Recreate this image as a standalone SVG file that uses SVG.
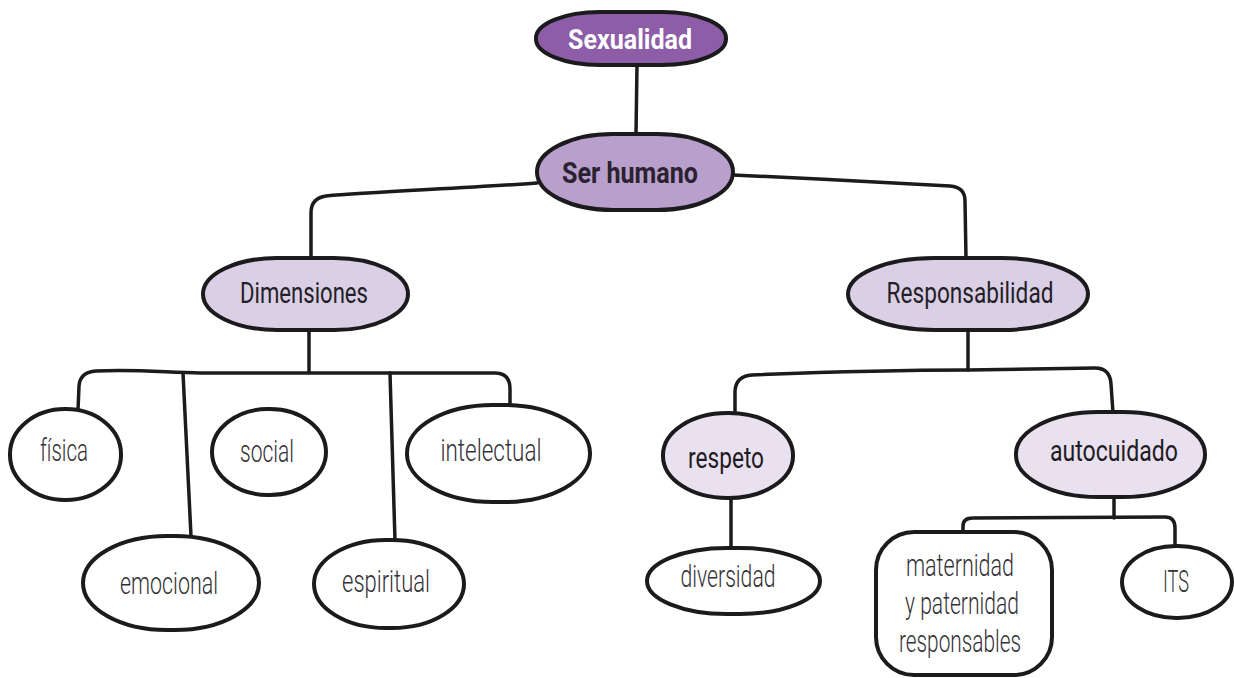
<svg xmlns="http://www.w3.org/2000/svg" width="1234" height="678" viewBox="0 0 1234 678">
<style>
.n{stroke:#1b1a1c;stroke-width:4;}
.w{fill:#ffffff;}
.c{fill:none;stroke:#1b1a1c;stroke-width:3.5;stroke-linecap:round;stroke-linejoin:round;}
text{font-family:"Roboto","DejaVu Sans Condensed","Liberation Sans",sans-serif;text-anchor:middle;}
.b{font-weight:700;fill:#2a2230;font-size:30px;}
.m{font-weight:400;fill:#231f26;font-size:30px;}
.r{font-weight:400;fill:#1f1b22;font-size:30px;}
.l{font-weight:300;fill:#333136;font-size:31px;}
</style>
<rect width="1234" height="678" fill="#ffffff"/>
<g id="connectors">
<path class="c" d="M637,65 L636,134"/>
<path class="c" d="M537,183 C470,188 370,192 326,196 Q311,198 311,213 L311,258"/>
<path class="c" d="M733,175 C800,178 900,183 950,186 Q965,187 965,201 L966,258"/>
<path class="c" d="M309,330 L309,372"/>
<path class="c" d="M78,410 L79,386 Q80,372 96,371 C140,369 170,373 200,373 L495,373 Q510,373 510,389 L510,405"/>
<path class="c" d="M183,373 L191,536"/>
<path class="c" d="M390,373 L395,541"/>
<path class="c" d="M968,330 L968,370"/>
<path class="c" d="M735,415 L735,391 Q736,376 752,375 C850,371 930,370 968,370 L1095,368 Q1110,368 1111,384 L1113,413"/>
<path class="c" d="M731,498 L731,548"/>
<path class="c" d="M1114,497 L1114,518"/>
<path class="c" d="M963,533 L963,526 Q963,518 973,518 L1165,517 Q1175,517 1175,528 L1175,547"/>
</g>
<g id="sexualidad"><rect class="n" x="536" y="12" width="190" height="53" rx="64" ry="26" fill="#8d5da8"/><text class="b" x="630" y="49" style="fill:#ffffff;font-size:28px" textLength="124" lengthAdjust="spacingAndGlyphs">Sexualidad</text></g>
<g id="ser-humano"><rect class="n" x="537" y="134" width="196" height="76" rx="76" ry="38" fill="#b9a0cc"/><text class="b" x="630" y="183" textLength="136" lengthAdjust="spacingAndGlyphs">Ser humano</text></g>
<g id="dimensiones"><rect class="n" x="203" y="258" width="205" height="72" rx="74" ry="36" fill="#dbcfe6"/><text class="m" x="304" y="303" textLength="128" lengthAdjust="spacingAndGlyphs">Dimensiones</text></g>
<g id="responsabilidad"><rect class="n" x="848" y="258" width="240" height="72" rx="86" ry="36" fill="#dbcfe6"/><text class="m" x="970" y="303" textLength="167" lengthAdjust="spacingAndGlyphs">Responsabilidad</text></g>
<g id="fisica"><rect class="n w" x="10" y="409" width="111" height="91" rx="55" ry="45"/><text class="l" x="64" y="461" textLength="48" lengthAdjust="spacingAndGlyphs">física</text></g>
<g id="social"><rect class="n w" x="212" y="409" width="114" height="86" rx="56" ry="43"/><text class="l" x="267" y="462" textLength="54" lengthAdjust="spacingAndGlyphs">social</text></g>
<g id="intelectual"><rect class="n w" x="407" y="405" width="183" height="97" rx="86" ry="48"/><text class="l" x="491" y="461" textLength="101" lengthAdjust="spacingAndGlyphs">intelectual</text></g>
<g id="emocional"><rect class="n w" x="83" y="536" width="176" height="94" rx="84" ry="47"/><text class="l" x="169" y="594" textLength="98" lengthAdjust="spacingAndGlyphs">emocional</text></g>
<g id="espiritual"><rect class="n w" x="314" y="540" width="150" height="88" rx="72" ry="44"/><text class="l" x="386" y="592" textLength="88" lengthAdjust="spacingAndGlyphs">espiritual</text></g>
<g id="respeto"><rect class="n" x="663" y="413" width="130" height="85" rx="64" ry="42" fill="#e9e1f0"/><text class="r" x="726" y="468" textLength="76" lengthAdjust="spacingAndGlyphs">respeto</text></g>
<g id="autocuidado"><rect class="n" x="1016" y="412" width="189" height="85" rx="82" ry="42" fill="#e9e1f0"/><text class="r" x="1114" y="461" textLength="128" lengthAdjust="spacingAndGlyphs">autocuidado</text></g>
<g id="diversidad"><rect class="n w" x="647" y="548" width="173" height="66" rx="80" ry="33"/><text class="l" x="728" y="587" textLength="95" lengthAdjust="spacingAndGlyphs">diversidad</text></g>
<g id="maternidad"><rect class="n w" x="876" y="532" width="176" height="143" rx="38" ry="38"/><text class="l" x="960" y="576" textLength="108" lengthAdjust="spacingAndGlyphs">maternidad</text><text class="l" x="962" y="614" textLength="114" lengthAdjust="spacingAndGlyphs">y paternidad</text><text class="l" x="960" y="652" textLength="122" lengthAdjust="spacingAndGlyphs">responsables</text></g>
<g id="its"><rect class="n w" x="1122" y="546" width="110" height="72" rx="54" ry="36"/><text class="l" x="1176" y="592" textLength="26" lengthAdjust="spacingAndGlyphs">ITS</text></g>
</svg>
